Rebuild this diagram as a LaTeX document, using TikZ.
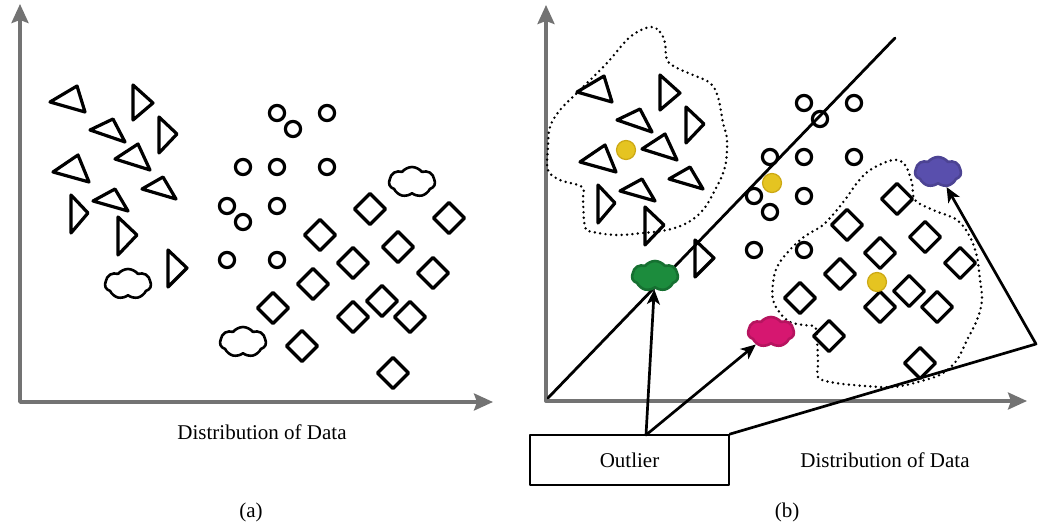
\documentclass[tikz,border=0pt]{standalone}
\usepackage{fontspec}
\setmainfont{Liberation Serif}
\usepackage{tikz}
\usetikzlibrary{arrows.meta}
\usetikzlibrary{shapes.symbols}
\definecolor{axisgray}{rgb}{0.45,0.45,0.45}
\definecolor{centroid}{rgb}{0.90,0.77,0.13}
\definecolor{centroidedge}{rgb}{0.80,0.66,0.08}
\definecolor{outgreen}{rgb}{0.11,0.55,0.24}
\definecolor{outpink}{rgb}{0.84,0.09,0.44}
\definecolor{outpurple}{rgb}{0.35,0.31,0.68}

% points shared by both panels (a) and (b)
\newcommand{\clusterpoints}{%
  \foreach \ax/\ay/\bx/\by/\cx/\cy in {50/102/77/86/85/112, 133/85/153/103/133/120,
      90/130/113/119/125/142, 159/117/177/134/159/153, 115/159/138/144/150/170,
      53/172/78/155/89/182, 142/189/163/177/176/199, 93/201/115/189/128/211,
      71/195/88/213/71/233, 118/217/137/235/118/255, 168/250/187/268/168/287}
    \draw[pointline] (\ax,\ay) -- (\bx,\by) -- (\cx,\cy) -- cycle;
  \foreach \x/\y in {277/113, 293/129, 327/113, 243/167, 277/167, 327/167,
      227/206, 243/222, 277/206, 227/260, 277/260}
    \draw[pointline] (\x,\y) circle (7.6);
  \foreach \x/\y in {370/209, 320/235, 398/247, 353/263, 433/273, 313/284,
      382/301, 273/308, 353/317, 410/317, 302/346, 393/373}
    \draw[pointline] (\x,\y-15.5) -- (\x+15.5,\y) -- (\x,\y+15.5) -- (\x-15.5,\y) -- cycle;
}

\begin{document}
\begin{tikzpicture}[x=1pt,y=-1pt,line cap=round,line join=round,
  axis/.style={draw=axisgray,line width=3.4pt,line cap=butt,
    {Stealth[length=19pt,width=17pt,inset=3pt]}-{Stealth[length=19pt,width=17pt,inset=3pt]}},
  pointline/.style={draw=black,line width=3.2pt},
  blob/.style={cloud,cloud puffs=7,cloud puff arc=105,cloud ignores aspect,
    minimum width=46pt,minimum height=30pt,inner sep=0pt,line width=2.6pt},
  boundary/.style={line width=2.7pt,dash pattern=on 0pt off 5.4pt,line cap=round},
  pointer/.style={line width=2.7pt,-{Stealth[length=15pt,width=13pt,inset=4pt]}},
  caption/.style={font=\fontsize{21}{25}\selectfont}]
\useasboundingbox (0,0) rectangle (1038,529);

% (a)
\draw[axis] (20,4) -- (20,402) -- (493,402);
\clusterpoints
\draw[pointline] (449,218-15.5) -- (449+15.5,218) -- (449,218+15.5) -- (449-15.5,218) -- cycle;
\node[blob,draw=black,fill=white] (a1) at (128,284) {};
\node[blob,draw=black,fill=white] (a2) at (412,182) {};
\node[blob,draw=black,fill=white] (a3) at (243,342) {};
\node[caption] (xa) at (262,432) {Distribution of Data};
\node[caption] (capa) at (251,512) {(a)};

% (b)
\draw[axis] (546,5) -- (546,401) -- (1027,401);
\draw[line width=2.8pt] (548,398) -- (895,38);
\begin{scope}[shift={(527,-10)}]
\clusterpoints
\end{scope}
\draw[boundary] plot[smooth cycle,tension=0.6] coordinates {(650,27) (660,32) (665,43) (667,60)
  (677,68) (693,75) (710,83) (718,97) (723,123) (727,140) (725,167) (715,190) (703,210)
  (687,223) (667,230) (643,233) (617,235) (593,232) (585,227) (583,200) (582,187) (560,180)
  (548,170) (548,147) (550,127) (560,110) (580,90) (607,63) (630,37)};
\draw[boundary] plot[smooth cycle,tension=0.6] coordinates {(893,160) (905,165) (912,183)
  (915,200) (933,210) (957,220) (970,237) (977,257) (980,280) (982,300) (977,320) (967,340)
  (957,360) (943,373) (925,380) (893,387) (853,385) (830,382) (818,377) (818,363) (817,340)
  (815,327) (803,325) (790,322) (780,313) (773,300) (773,283) (777,267) (787,253) (800,240)
  (810,233) (823,225) (837,210) (847,197) (857,183) (870,170)};
\foreach \x/\y in {626/150, 772/183, 877/282}
  \fill[centroid,draw=centroidedge,line width=1.2pt] (\x,\y) circle (9.5);
\node[blob,draw=outgreen!80!black,fill=outgreen] (green) at (655,276) {};
\node[blob,draw=outpink!85!black,fill=outpink] (pink) at (771,332) {};
\node[blob,draw=outpurple!85!black,fill=outpurple] (purple) at (938,172) {};
\node[caption,draw,line width=1.8pt,minimum width=199pt,minimum height=50pt] (outlier) at (629.5,460) {Outlier};
\coordinate (fork) at (646,435);
\coordinate (bend) at (1036,344);
\draw[pointer] (fork) -- (green);
\draw[pointer] (fork) -- (pink);
\draw[pointer] (outlier.north east) -- (bend) -- (purple);
\node[caption] (xb) at (885,460) {Distribution of Data};
\node[caption] (capb) at (787,512) {(b)};
\end{tikzpicture}
\end{document}
